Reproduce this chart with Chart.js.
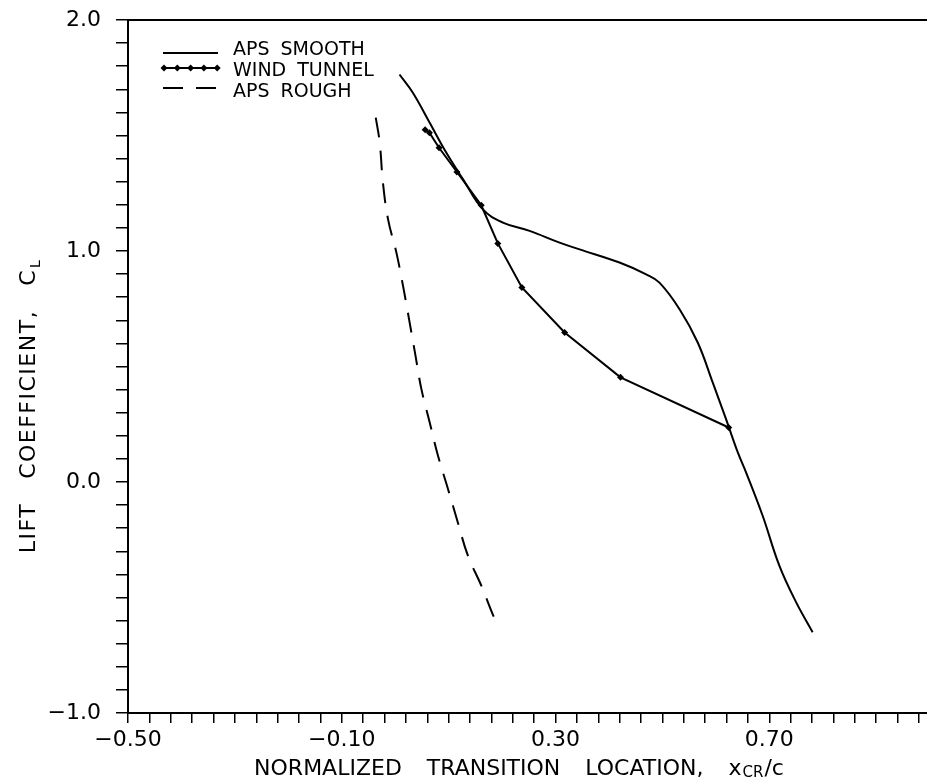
<!DOCTYPE html>
<html>
<head>
<meta charset="utf-8">
<script src="https://cdn.jsdelivr.net/npm/chart.js@4.4.1/dist/chart.umd.min.js"></script>
<style>
  body { margin: 0; background: #fff; overflow: hidden; }
  #wrap { width: 927px; height: 783px; position: relative; }
</style>
</head>
<body>
<div id="wrap"><canvas id="liftChart"></canvas></div>
<script>
// APS prediction, smooth surface
const smoothX = [0.008, 0.033, 0.0645, 0.0957, 0.127, 0.164, 0.2015, 0.2514, 0.3075, 0.345, 0.4196, 0.4695, 0.4944, 0.532, 0.566, 0.594, 0.619, 0.641, 0.6564, 0.6875, 0.7187, 0.75, 0.781];
const smoothY = [1.764, 1.685, 1.555, 1.425, 1.31, 1.18, 1.123, 1.087, 1.036, 1.007, 0.95, 0.899, 0.863, 0.748, 0.604, 0.431, 0.272, 0.128, 0.042, -0.146, -0.362, -0.52, -0.65];

// wind tunnel measurements
const tunnelX = [0.056, 0.064, 0.082, 0.1155, 0.161, 0.192, 0.237, 0.317, 0.4215, 0.624];
const tunnelY = [1.525, 1.512, 1.447, 1.342, 1.198, 1.033, 0.842, 0.647, 0.453, 0.236];

// APS prediction, rough surface
const roughX = [-0.0364, -0.029, -0.023, -0.0134, 0.0022, 0.0146, 0.027, 0.038, 0.049, 0.0645, 0.08, 0.0987, 0.117, 0.136, 0.161, 0.186, 0.194];
const roughY = [1.577, 1.469, 1.296, 1.137, 0.993, 0.849, 0.69, 0.546, 0.402, 0.258, 0.114, -0.03, -0.174, -0.319, -0.448, -0.592, -0.621];

// labelled ticks
const xLabelTicks = [-0.5, -0.1, 0.3, 0.7];
const yLabelTicks = [-1, 0, 1, 2];

const FONT = '"DejaVu Sans", sans-serif';
const toPoints = (xs, ys) => xs.map((x, i) => ({ x: x, y: ys[i] }));
const fmt = (v, d) => v.toFixed(d).replace('-', '\u2212');
const near = (v, list) => list.some(t => Math.abs(v - t) < 1e-6);

// writes words one after another with a fixed gap, returns end x
function drawWords(ctx, words, x, y, gap) {
  words.forEach(w => {
    ctx.fillText(w, x, y);
    x += ctx.measureText(w).width + gap;
  });
  return x - gap;
}

function diamond(ctx, x, y, r) {
  ctx.beginPath();
  ctx.moveTo(x, y - r);
  ctx.lineTo(x + r, y);
  ctx.lineTo(x, y + r);
  ctx.lineTo(x - r, y);
  ctx.closePath();
  ctx.fill();
}

const plotDecor = {
  id: 'plotDecor',
  afterDraw(chart) {
    const { ctx, chartArea: a } = chart;
    ctx.save();
    ctx.strokeStyle = '#000';
    ctx.fillStyle = '#000';

    // top frame
    ctx.lineWidth = 2;
    ctx.beginPath();
    ctx.moveTo(a.left, a.top);
    ctx.lineTo(a.right, a.top);
    ctx.stroke();

    // legend
    const lineY = [53, 68, 88];
    const baseY = [55, 76, 97];
    ctx.font = '19px ' + FONT;
    ctx.textBaseline = 'alphabetic';
    ctx.textAlign = 'left';
    chart.data.datasets.forEach((ds, i) => {
      ctx.lineWidth = ds.borderWidth;
      ctx.setLineDash(ds.borderDash || []);
      ctx.lineDashOffset = 0;
      ctx.beginPath();
      ctx.moveTo(163, lineY[i]);
      ctx.lineTo(218, lineY[i]);
      ctx.stroke();
      ctx.setLineDash([]);
      if (ds.pointRadius > 0) {
        for (let k = 0; k < 5; k++) diamond(ctx, 164 + k * 13.3, lineY[i], ds.pointRadius);
      }
      drawWords(ctx, ds.label.split(' '), 233, baseY[i], 11);
    });

    // x axis title
    const words = ['NORMALIZED', 'TRANSITION', 'LOCATION,'];
    const gap = 25;
    ctx.font = '22px ' + FONT;
    let w = words.reduce((s, t) => s + ctx.measureText(t).width, 0) + gap * 3;
    w += ctx.measureText('x/c').width;
    ctx.font = '15px ' + FONT;
    w += ctx.measureText('CR').width;
    let x = 518 - w / 2;
    const by = 775;
    ctx.font = '22px ' + FONT;
    x = drawWords(ctx, words, x, by, gap) + gap;
    ctx.fillText('x', x, by);
    x += ctx.measureText('x').width + 1;
    ctx.font = '15px ' + FONT;
    ctx.fillText('CR', x, by + 2);
    x += ctx.measureText('CR').width + 1;
    ctx.font = '22px ' + FONT;
    ctx.fillText('/c', x, by);

    // y axis title, letters spread a little wider
    ctx.translate(35, 406);
    ctx.rotate(-Math.PI / 2);
    if ('letterSpacing' in ctx) ctx.letterSpacing = '1.5px';
    const yWords = ['LIFT', 'COEFFICIENT,', 'C'];
    const yGap = 24;
    ctx.font = '22px ' + FONT;
    let yw = yWords.reduce((s, t) => s + ctx.measureText(t).width, 0) + yGap * 2;
    ctx.font = '14px ' + FONT;
    yw += ctx.measureText('L').width + 1;
    ctx.font = '22px ' + FONT;
    let yx = drawWords(ctx, yWords, -yw / 2, 0, yGap) + 1;
    ctx.font = '14px ' + FONT;
    ctx.fillText('L', yx, 5);

    ctx.restore();
  }
};

const axisGrid = {
  display: true,
  drawOnChartArea: false,
  drawTicks: true,
  color: '#000',
  lineWidth: 1.5
};

new Chart(document.getElementById('liftChart'), {
  type: 'line',
  data: {
    datasets: [
      {
        label: 'APS SMOOTH',
        data: toPoints(smoothX, smoothY),
        borderColor: '#000',
        borderWidth: 2,
        pointRadius: 0,
        tension: 0.4,
        fill: false
      },
      {
        label: 'WIND TUNNEL',
        data: toPoints(tunnelX, tunnelY),
        borderColor: '#000',
        borderWidth: 2,
        pointRadius: 3.5,
        pointStyle: 'rectRot',
        pointBackgroundColor: '#000',
        pointBorderColor: '#000',
        pointBorderWidth: 0,
        tension: 0,
        fill: false
      },
      {
        label: 'APS ROUGH',
        data: toPoints(roughX, roughY),
        borderColor: '#000',
        borderWidth: 2,
        borderDash: [20, 13],
        pointRadius: 0,
        tension: 0.4,
        fill: false
      }
    ]
  },
  options: {
    responsive: true,
    maintainAspectRatio: false,
    animation: false,
    layout: { autoPadding: false, padding: { top: 20, left: 0, right: 0, bottom: 0 } },
    plugins: {
      legend: { display: false },
      tooltip: { enabled: false }
    },
    scales: {
      x: {
        type: 'linear',
        min: -0.5,
        max: 0.995,
        afterFit: (scale) => {
          scale.height = 70;
          scale.paddingLeft = 0;
          scale.paddingRight = 0;
        },
        afterBuildTicks: (scale) => {
          const ticks = [];
          for (let i = 0; i <= 37; i++) ticks.push({ value: -0.5 + i * 0.04 });
          scale.ticks = ticks;
        },
        grid: Object.assign({}, axisGrid, { tickLength: 10 }),
        border: { display: true, color: '#000', width: 2 },
        ticks: {
          autoSkip: false,
          maxRotation: 0,
          minRotation: 0,
          padding: 4,
          color: '#000',
          font: { family: FONT, size: 22 },
          callback: (v) => near(v, xLabelTicks) ? fmt(v, 2) : ''
        }
      },
      y: {
        type: 'linear',
        min: -1,
        max: 2,
        afterFit: (scale) => {
          scale.width = 128;
          scale.paddingTop = 0;
          scale.paddingBottom = 0;
        },
        afterBuildTicks: (scale) => {
          const ticks = [];
          for (let i = 0; i <= 30; i++) ticks.push({ value: -1 + i * 0.1 });
          scale.ticks = ticks;
        },
        grid: Object.assign({}, axisGrid, { tickLength: 12 }),
        border: { display: true, color: '#000', width: 2 },
        ticks: {
          autoSkip: false,
          padding: 15,
          color: '#000',
          font: { family: FONT, size: 22 },
          callback: (v) => near(v, yLabelTicks) ? fmt(v, 1) : ''
        }
      }
    }
  },
  plugins: [plotDecor]
});
</script>
</body>
</html>
